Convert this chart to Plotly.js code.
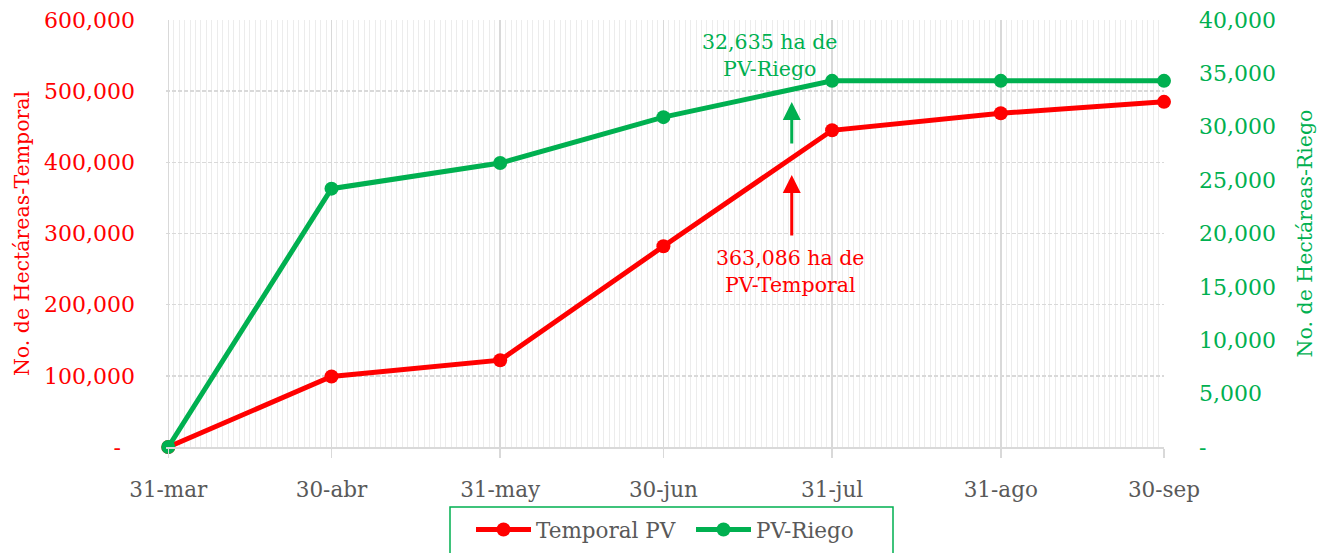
<!DOCTYPE html>
<html>
<head>
<meta charset="utf-8">
<script src="https://cdn.plot.ly/plotly-3.0.1.min.js"></script>
<style>html,body{margin:0;padding:0;background:#fff;}#chart{width:1330px;height:553px;}</style>
</head>
<body>
<div id="chart"></div>
<script>
const fechas = ['2023-03-31','2023-04-30','2023-05-31','2023-06-30','2023-07-31','2023-08-31','2023-09-30'];
const etiquetasX = ['31-mar','30-abr','31-may','30-jun','31-jul','31-ago','30-sep'];
const temporalPV = [0, 99000, 122000, 282000, 445000, 469000, 485000];
const pvRiego = [0, 24200, 26600, 30900, 34300, 34300, 34300];
const ticksIzq = [0, 100000, 200000, 300000, 400000, 500000, 600000];
const textoIzq = ['-\u2007', '100,000', '200,000', '300,000', '400,000', '500,000', '600,000'];
const ticksDer = [0, 5000, 10000, 15000, 20000, 25000, 30000, 35000, 40000];
const textoDer = ['-', '5,000', '10,000', '15,000', '20,000', '25,000', '30,000', '35,000', '40,000'];

const ROJO = '#ff0000', VERDE = '#00b050', GRIS = '#595959';
const FONT = 'DejaVu Serif';

const traces = [
  {x: fechas, y: temporalPV, name: 'Temporal PV', type: 'scatter', mode: 'lines+markers',
   line: {color: ROJO, width: 5}, marker: {color: ROJO, size: 14}, yaxis: 'y', cliponaxis: false},
  {x: fechas, y: pvRiego, name: 'PV-Riego', type: 'scatter', mode: 'lines+markers',
   line: {color: VERDE, width: 5}, marker: {color: VERDE, size: 14}, yaxis: 'y2', cliponaxis: false}
];

const layout = {
  width: 1330, height: 553,
  margin: {l: 166, r: 166, t: 20, b: 106},
  paper_bgcolor: '#fff', plot_bgcolor: '#fff',
  font: {family: FONT, size: 20, color: GRIS},
  showlegend: true,
  xaxis: {
    type: 'date', range: ['2023-03-30 14:00', '2023-09-30'],
    tickmode: 'array', tickvals: fechas, ticktext: etiquetasX,
    tickfont: {family: FONT, size: 21.5, color: GRIS},
    showgrid: true, gridcolor: '#d9d9d9', gridwidth: 1.5,
    ticks: 'outside', ticklen: 9, tickcolor: '#d9d9d9', tickwidth: 1.5,
    ticklabelstandoff: 13,
    showline: true, linecolor: '#d9d9d9', linewidth: 2,
    zeroline: false,
    minor: {dtick: 86400000, tick0: '2023-03-31', showgrid: true, gridcolor: '#ececec', gridwidth: 1, ticks: ''}
  },
  yaxis: {
    range: [0, 600000], tickmode: 'array', tickvals: ticksIzq, ticktext: textoIzq,
    tickfont: {family: FONT, size: 22, color: ROJO},
    showgrid: true, gridcolor: '#d9d9d9', griddash: '4px,2px', gridwidth: 1.5,
    zeroline: false, ticks: '', ticklabelstandoff: 30,
    title: {text: 'No. de Hectáreas-Temporal', font: {family: FONT, size: 20.5, color: ROJO}, standoff: 8}
  },
  yaxis2: {
    range: [0, 40000], overlaying: 'y', side: 'right', tickmode: 'array',
    tickvals: ticksDer, ticktext: textoDer,
    tickfont: {family: FONT, size: 22, color: VERDE},
    showgrid: false, zeroline: false, ticks: '', ticklabelstandoff: 34,
    title: {text: 'No. de Hectáreas-Riego', font: {family: FONT, size: 20.5, color: VERDE}, standoff: 22}
  },
  legend: {
    orientation: 'h', xref: 'container', yref: 'container',
    x: 471/1330, xanchor: 'left', y: 1 - 509/553, yanchor: 'top',
    borderwidth: 0, bgcolor: 'rgba(0,0,0,0)',
    font: {family: FONT, size: 21.5, color: GRIS},
    itemwidth: 55, entrywidth: 150, traceorder: 'normal'
  },
  shapes: [
    {type: 'rect', xref: 'paper', yref: 'paper',
     x0: (450-166)/998, x1: (893-166)/998, y0: (447-570)/427, y1: (447-507)/427,
     line: {color: VERDE, width: 1.5}, fillcolor: 'rgba(0,0,0,0)', layer: 'below'}
  ],
  annotations: [
    {xref: 'paper', yref: 'paper', x: 0.605, y: 0.917, xanchor: 'center', yanchor: 'middle',
     text: '32,635 ha de<br>PV-Riego', showarrow: false, font: {family: FONT, size: 20.5, color: VERDE}},
    {xref: 'paper', yref: 'paper', x: 0.626, y: 0.41, xanchor: 'center', yanchor: 'middle',
     text: '363,086 ha de<br>PV-Temporal', showarrow: false, font: {family: FONT, size: 20.5, color: ROJO}},
    {xref: 'paper', yref: 'paper', x: 0.627, y: 0.808, text: '', showarrow: true,
     ax: 0, ay: 43, arrowhead: 2, arrowsize: 1.2, arrowwidth: 3, arrowcolor: VERDE},
    {xref: 'paper', yref: 'paper', x: 0.627, y: 0.637, text: '', showarrow: true,
     ax: 0, ay: 62, arrowhead: 2, arrowsize: 1.2, arrowwidth: 3, arrowcolor: ROJO}
  ]
};

Plotly.newPlot('chart', traces, layout, {displayModeBar: false, staticPlot: true});
</script>
</body>
</html>
